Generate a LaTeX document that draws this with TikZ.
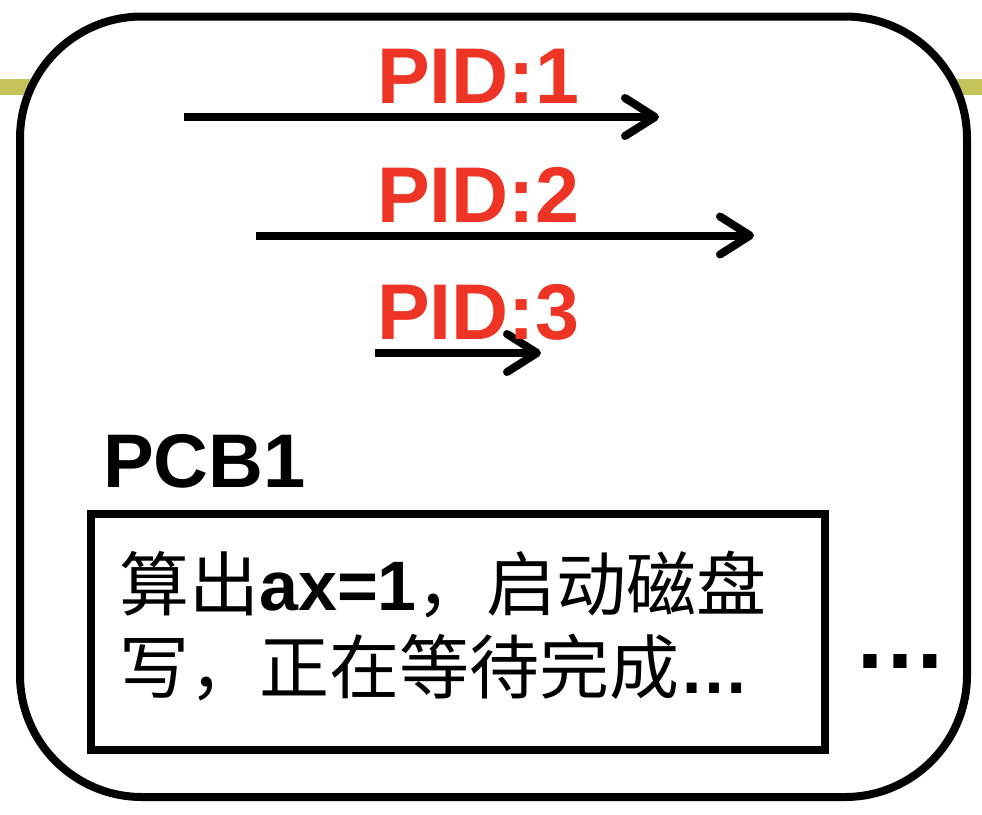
\documentclass[tikz,border=0pt]{standalone}
\usepackage{fontspec}
\setmainfont{Liberation Sans}
\newfontfamily\cjk{Noto Sans CJK SC}
\usetikzlibrary{arrows.meta}
\definecolor{pidred}{RGB}{238,52,36}
\definecolor{olive}{RGB}{196,196,90}
\tikzset{
  pidlabel/.style={text=pidred, font=\fontsize{79}{79}\selectfont\bfseries, inner sep=0pt, anchor=base west},
  pidarrow/.style={line width=8pt, -{Straight Barb[length=30pt,width=38pt,line width=8pt,round]}},
  txt/.style={inner sep=0pt, anchor=base west},
  frame/.style={draw, line width=8pt, inner sep=0pt}
}
\begin{document}
\begin{tikzpicture}[x=1pt,y=-1pt]
\useasboundingbox (0,0) rectangle (982,814);
% olive bars
\fill[olive] (0,79) rectangle (34,95);
\fill[olive] (952,79) rectangle (982,95);
% outer frame
\node[frame, rounded corners=122pt, minimum width=947pt, minimum height=780.5pt, fill=white] (outer) at (493.5,406.75) {};
% arrows
\coordinate (a1s) at (184,117);
\coordinate (a1e) at (659,117);
\coordinate (a2s) at (256,235.5);
\coordinate (a2e) at (754,235.5);
\coordinate (a3s) at (375,353);
\coordinate (a3e) at (541,353);
\draw[pidarrow] (a1s) -- (a1e);
\draw[pidarrow] (a2s) -- (a2e);
\draw[pidarrow] (a3s) -- (a3e);
% PID labels
\node[pidlabel] (pid1) at (377,103) {PID:1};
\node[pidlabel] (pid2) at (377,222) {PID:2};
\node[pidlabel] (pid3) at (377,339) {PID:3};
% PCB1
\node[txt, font=\fontsize{76}{76}\selectfont\bfseries] (pcb) at (103,487) {PCB1};
\node[frame, minimum width=734pt, minimum height=235.5pt] (pcbbox) at (458,631.75) {};
\node[txt, font=\fontsize{70}{70}\selectfont] (l1) at (119,610) {{\cjk 算出}\textbf{ax=1}{\cjk ，启动磁盘}};
\node[txt, font=\fontsize{70}{70}\selectfont] (l2) at (119,693) {{\cjk 写，正在等待完成}\textbf{…}};
\node[txt, font=\fontsize{94}{94}\selectfont\bfseries] (dots) at (853,668) {…};
\end{tikzpicture}
\end{document}
